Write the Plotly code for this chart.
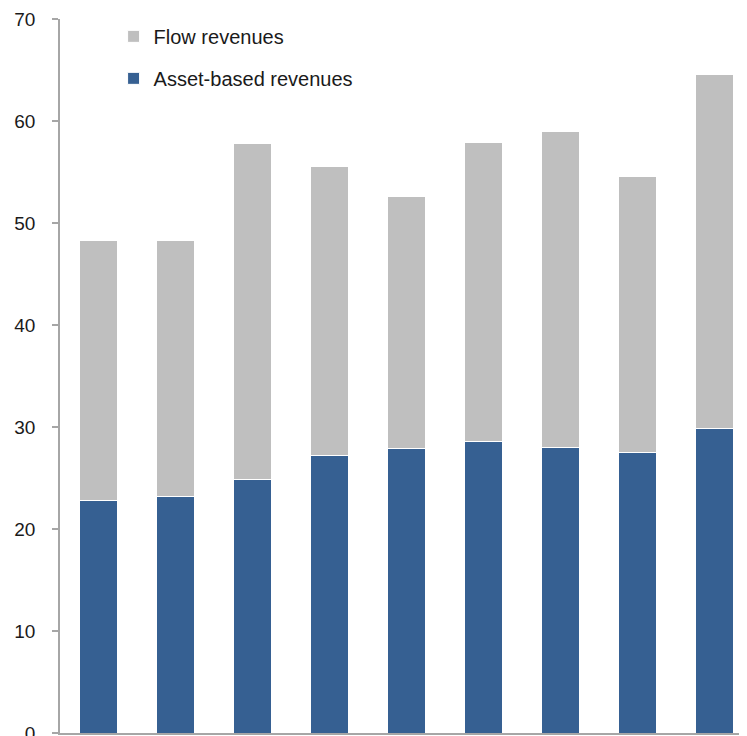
import plotly.graph_objects as go

categories = ["1", "2", "3", "4", "5", "6", "7", "8", "9"]
asset_based = [22.8, 23.2, 24.9, 27.2, 27.9, 28.6, 28.0, 27.5, 29.9]
totals = [48.3, 48.3, 57.8, 55.5, 52.6, 57.9, 59.0, 54.6, 64.6]
flow = [round(t - a, 1) for t, a in zip(totals, asset_based)]
y_ticks = [0, 10, 20, 30, 40, 50, 60, 70]

BLUE = "#366092"
GRAY = "#BFBFBF"
AXIS = "#A6A6A6"
FONT = "Liberation Sans, Arial, sans-serif"

fig = go.Figure()
fig.add_trace(go.Bar(
    x=categories, y=asset_based, name="Asset-based revenues",
    marker=dict(color=BLUE, line=dict(color="white", width=1)),
    width=0.5, legendgroup="a", legendrank=2,
))
fig.add_trace(go.Bar(
    x=categories, y=flow, name="Flow revenues",
    marker=dict(color=GRAY, line=dict(color="white", width=1)),
    width=0.5, legendgroup="b", legendrank=1,
))

fig.update_layout(
    width=739, height=728,
    barmode="stack",
    plot_bgcolor="white", paper_bgcolor="white",
    margin=dict(l=52, r=0, t=11, b=3, autoexpand=False),
    font=dict(family=FONT, size=19, color="#1a1a1a"),
    legend=dict(
        x=0.078, y=1.003, xanchor="left", yanchor="top",
        traceorder="grouped", tracegroupgap=13,
        font=dict(size=20, color="#1a1a1a"),
        bgcolor="rgba(0,0,0,0)",
    ),
    xaxis=dict(
        type="category", range=[-0.5, 8.42], automargin=False,
        showline=True, linecolor=AXIS, linewidth=1.5,
        showticklabels=False, ticks="", showgrid=False, zeroline=False,
    ),
    yaxis=dict(
        range=[0, 70], tickvals=y_ticks, automargin=False,
        showline=True, linecolor=AXIS, linewidth=1.5,
        ticks="outside", ticklen=6, tickcolor=AXIS, tickwidth=1.5,
        ticklabelstandoff=13, ticklabeloverflow="allow",
        showgrid=False, zeroline=False,
        tickfont=dict(size=19, color="#1a1a1a"),
    ),
)

fig.write_html("out.html")
